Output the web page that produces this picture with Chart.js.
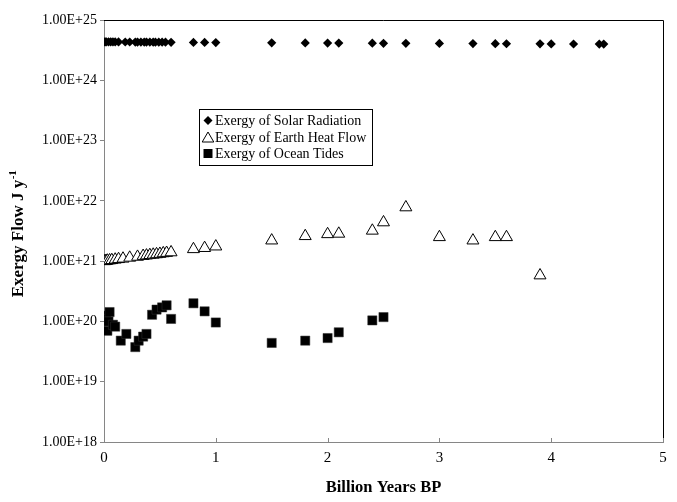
<!DOCTYPE html>
<html><head><meta charset="utf-8">
<script src="https://cdn.jsdelivr.net/npm/chart.js@4.4.1/dist/chart.umd.min.js"></script>
<style>html,body{margin:0;padding:0;background:#fff}canvas{display:block}</style>
</head><body>
<canvas id="c" width="677" height="502" style="width:677px;height:502px"></canvas>
<script>
// ---- data ----
const seriesNames = ['Exergy of Solar Radiation', 'Exergy of Earth Heat Flow', 'Exergy of Ocean Tides'];

const solarX = [0, 0.01, 0.02, 0.04, 0.06, 0.08, 0.1, 0.13, 0.19, 0.23, 0.28, 0.3, 0.33, 0.36, 0.38, 0.41, 0.44, 0.46, 0.49, 0.52, 0.55, 0.6,
                0.8, 0.9, 1.0, 1.5, 1.8, 2.0, 2.1, 2.4, 2.5, 2.7, 3.0, 3.3, 3.5, 3.6, 3.9, 4.0, 4.2, 4.43, 4.47];
const solarY = [4.35e24, 4.35e24, 4.35e24, 4.34e24, 4.34e24, 4.34e24, 4.33e24, 4.33e24, 4.32e24, 4.32e24, 4.31e24, 4.31e24, 4.31e24, 4.30e24, 4.30e24, 4.30e24, 4.29e24, 4.29e24, 4.29e24, 4.28e24, 4.28e24, 4.27e24,
                4.25e24, 4.24e24, 4.23e24, 4.19e24, 4.16e24, 4.15e24, 4.14e24, 4.12e24, 4.11e24, 4.10e24, 4.08e24, 4.06e24, 4.05e24, 4.04e24, 4.02e24, 4.01e24, 4.00e24, 3.98e24, 3.98e24];

const heatX = [0, 0.01, 0.02, 0.03, 0.05, 0.07, 0.1, 0.13, 0.17, 0.23, 0.3, 0.35, 0.38, 0.41, 0.44, 0.47, 0.5, 0.53, 0.56, 0.6,
               0.8, 0.9, 1.0, 1.5, 1.8, 2.0, 2.1, 2.4, 2.5, 2.7, 3.0, 3.3, 3.5, 3.6, 3.9];
const heatY = [1.0e21, 1.0e21, 1.01e21, 1.02e21, 1.03e21, 1.04e21, 1.06e21, 1.08e21, 1.1e21, 1.14e21, 1.18e21, 1.22e21, 1.24e21, 1.26e21, 1.28e21, 1.3e21, 1.32e21, 1.35e21, 1.37e21, 1.4e21,
               1.58e21, 1.65e21, 1.75e21, 2.2e21, 2.6e21, 2.8e21, 2.85e21, 3.2e21, 4.4e21, 7.8e21, 2.5e21, 2.2e21, 2.5e21, 2.5e21, 5.8e20];

const tideX = [0, 0.01, 0.02, 0.03, 0.04, 0.05, 0.08, 0.1, 0.15, 0.2, 0.28, 0.31, 0.35, 0.38, 0.43, 0.47, 0.52, 0.56, 0.6,
               0.8, 0.9, 1.0, 1.5, 1.8, 2.0, 2.1, 2.4, 2.5];
const tideY = [1.2e20, 1.25e20, 1.1e20, 7.0e19, 1.0e20, 1.43e20, 8.8e19, 8.2e19, 4.8e19, 6.2e19, 3.75e19, 4.8e19, 5.6e19, 6.2e19, 1.29e20, 1.57e20, 1.71e20, 1.85e20, 1.1e20,
               2.0e20, 1.47e20, 9.6e19, 4.4e19, 4.8e19, 5.3e19, 6.6e19, 1.04e20, 1.18e20];

const yTickValues = [1e18, 1e19, 1e20, 1e21, 1e22, 1e23, 1e24, 1e25];
const yTickLabels = ['1.00E+18', '1.00E+19', '1.00E+20', '1.00E+21', '1.00E+22', '1.00E+23', '1.00E+24', '1.00E+25'];
const xTickValues = [0, 1, 2, 3, 4, 5];
const xTickLabels = ['0', '1', '2', '3', '4', '5'];
const xTitle = 'Billion Years BP';
const yTitleMain = 'Exergy Flow J y';
const yTitleSup = '-1';

// ---- chart ----
const FONT = "'Liberation Serif','Times New Roman',serif";
const AXIS_GRAY = '#868686';
function pts(xs, ys) { return xs.map((x, i) => ({ x: x, y: ys[i] })); }

function drawMarker(ctx, kind, x, y) {
  ctx.save();
  ctx.lineWidth = 1;
  ctx.strokeStyle = '#000';
  ctx.fillStyle = '#000';
  ctx.beginPath();
  if (kind === 'diamond') {
    ctx.moveTo(x, y - 4.5); ctx.lineTo(x + 4.5, y); ctx.lineTo(x, y + 4.5); ctx.lineTo(x - 4.5, y); ctx.closePath();
    ctx.fill();
  } else if (kind === 'triangle') {
    ctx.fillStyle = '#fff';
    ctx.moveTo(x, y - 5); ctx.lineTo(x + 5.8, y + 5); ctx.lineTo(x - 5.8, y + 5); ctx.closePath();
    ctx.fill(); ctx.stroke();
  } else {
    ctx.rect(x - 4.5, y - 4.5, 9, 9);
    ctx.fill();
  }
  ctx.restore();
}

const decor = {
  id: 'decor',
  beforeDatasetsDraw(chart) {
    const { ctx, chartArea: a } = chart;
    ctx.save();
    ctx.lineWidth = 1;
    ctx.strokeStyle = '#000';
    ctx.beginPath();
    ctx.moveTo(a.left, Math.round(a.top) + 0.5);
    ctx.lineTo(Math.round(a.right) + 0.5, Math.round(a.top) + 0.5);
    ctx.lineTo(Math.round(a.right) + 0.5, a.bottom);
    ctx.stroke();
    const xs = chart.scales.x;
    ctx.strokeStyle = AXIS_GRAY;
    xTickValues.forEach(v => {
      const px = Math.round(xs.getPixelForValue(v)) + 0.5;
      ctx.beginPath(); ctx.moveTo(px, a.bottom); ctx.lineTo(px, a.bottom - 4); ctx.stroke();
    });
    ctx.restore();
  },
  afterDraw(chart) {
    const { ctx, chartArea: a } = chart;
    ctx.save();
    ctx.fillStyle = '#000';
    // x title
    ctx.font = 'bold 16.5px ' + FONT;
    ctx.textAlign = 'center';
    ctx.textBaseline = 'middle';
    ctx.fillText(xTitle, (a.left + a.right) / 2, 488);
    // y title with superscript
    ctx.save();
    ctx.translate(19, (a.top + a.bottom) / 2 + 3);
    ctx.rotate(-Math.PI / 2);
    ctx.textAlign = 'left';
    ctx.textBaseline = 'middle';
    ctx.font = 'bold 17px ' + FONT;
    const w1 = ctx.measureText(yTitleMain).width;
    ctx.font = 'bold 11px ' + FONT;
    const w2 = ctx.measureText(yTitleSup).width;
    const start = -(w1 + w2) / 2;
    ctx.font = 'bold 17px ' + FONT;
    ctx.fillText(yTitleMain, start, 0);
    ctx.font = 'bold 11px ' + FONT;
    ctx.fillText(yTitleSup, start + w1 + 0.5, -6);
    ctx.restore();
    // legend
    const bx = 199.5, by = 109.5, bw = 173, bh = 56;
    ctx.fillStyle = '#fff';
    ctx.fillRect(bx, by, bw, bh);
    ctx.strokeStyle = '#000';
    ctx.lineWidth = 1;
    ctx.strokeRect(bx, by, bw, bh);
    const kinds = ['diamond', 'triangle', 'square'];
    const rows = [120.5, 137, 153.5];
    ctx.font = '14px ' + FONT;
    ctx.textAlign = 'left';
    ctx.textBaseline = 'middle';
    rows.forEach((ry, i) => {
      drawMarker(ctx, kinds[i], 208, ry);
      ctx.fillStyle = '#000';
      ctx.fillText(seriesNames[i], 215, ry + 1);
    });
    ctx.restore();
  }
};

new Chart(document.getElementById('c'), {
  type: 'scatter',
  data: {
    datasets: [
      { label: seriesNames[0], data: pts(solarX, solarY), pointStyle: 'rectRot', pointRadius: 4.6,
        backgroundColor: '#000', borderColor: '#000', borderWidth: 0 },
      { label: seriesNames[1], data: pts(heatX, heatY), pointStyle: 'triangle', pointRadius: 6.9,
        backgroundColor: '#fff', borderColor: '#000', borderWidth: 1 },
      { label: seriesNames[2], data: pts(tideX, tideY), pointStyle: 'rect', pointRadius: 6.5,
        backgroundColor: '#000', borderColor: '#333', borderWidth: 0.5 }
    ]
  },
  options: {
    responsive: false,
    animation: false,
    devicePixelRatio: 1,
    layout: { padding: { left: 0, top: 20, right: 14, bottom: 0 } },
    plugins: { legend: { display: false }, tooltip: { enabled: false } },
    scales: {
      x: {
        type: 'linear', min: 0, max: 5,
        afterBuildTicks: s => { s.ticks = xTickValues.map(v => ({ value: v })); },
        afterFit: s => { s.height = 60; },
        ticks: { callback: (v, i) => xTickLabels[i], font: { family: FONT, size: 15 }, color: '#000', padding: 7, maxRotation: 0 },
        grid: { drawOnChartArea: false, drawTicks: false },
        border: { display: true, color: AXIS_GRAY, width: 1 }
      },
      y: {
        type: 'logarithmic', min: 1e18, max: 1e25,
        afterBuildTicks: s => { s.ticks = yTickValues.map(v => ({ value: v })); },
        afterFit: s => { s.width = 104; },
        ticks: { callback: (v, i) => yTickLabels[i], font: { family: FONT, size: 14 }, color: '#000', padding: 3, autoSkip: false },
        grid: { drawOnChartArea: false, drawTicks: true, tickLength: 4, color: AXIS_GRAY },
        border: { display: true, color: AXIS_GRAY, width: 1 }
      }
    }
  },
  plugins: [decor]
});
</script>
</body></html>
